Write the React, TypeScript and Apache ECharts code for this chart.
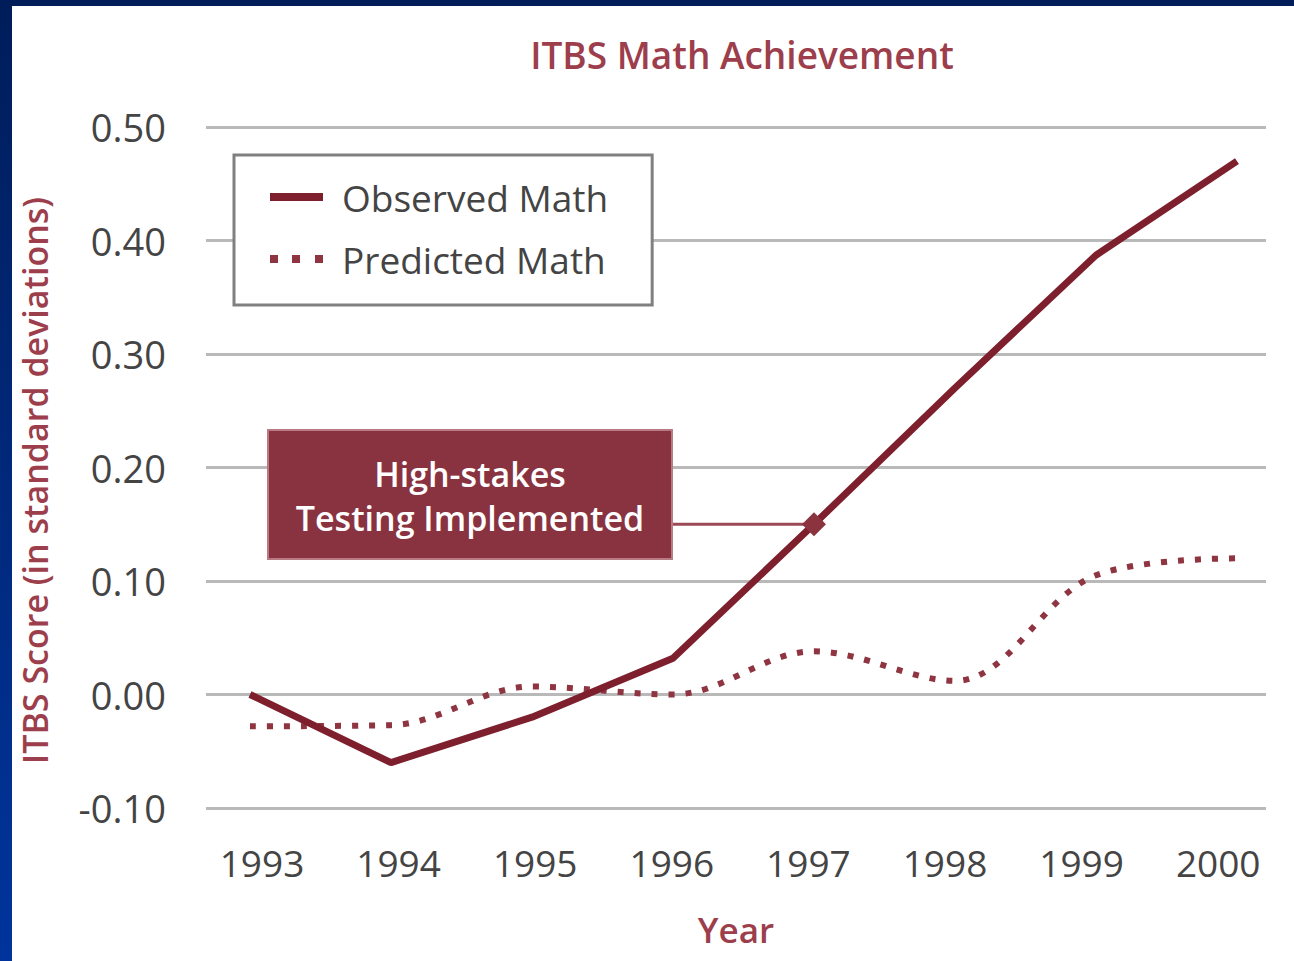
import React, { useEffect, useRef } from "react";
import * as echarts from "echarts";

const years = [1993, 1994, 1995, 1996, 1997, 1998, 1999, 2000];
const observedMath = [0.0, -0.06, -0.02, 0.032, 0.15, 0.27, 0.387, 0.47];
const predictedMath = [-0.028, -0.027, 0.007, 0.0, 0.038, 0.012, 0.105, 0.12];
const yTicks = [-0.1, 0.0, 0.1, 0.2, 0.3, 0.4, 0.5];
const annotationYear = 1997;
const annotationText = "High-stakes\nTesting Implemented";

const MAROON = "#7e1f2d";
const DOT = "#8f3441";
const FONT = "'Open Sans', 'DejaVu Sans', sans-serif";

export default function App() {
  const ref = useRef<HTMLDivElement>(null);
  useEffect(() => {
    if (!ref.current) return;
    const chart = echarts.init(ref.current, undefined, { renderer: "svg" });
    const obsPairs = years.map((y, i) => [y, observedMath[i]]);
    const predPairs = years.map((y, i) => [y, predictedMath[i]]);
    const annIdx = years.indexOf(annotationYear);
    chart.setOption({
      animation: false,
      backgroundColor: "#ffffff",
      title: {
        text: "ITBS Math Achievement",
        left: 725,
        top: 25,
        textAlign: "center",
        textStyle: { color: "#9c3e4b", fontSize: 37, fontWeight: 600, fontFamily: FONT },
      },
      legend: {
        orient: "vertical",
        left: 222,
        top: 149,
        padding: [22, 44, 26, 36],
        itemGap: 22,
        itemWidth: 53,
        itemHeight: 8,
        borderColor: "#808080",
        borderWidth: 3,
        backgroundColor: "#ffffff",
        textStyle: {
          color: "#444",
          fontSize: 37,
          lineHeight: 40,
          fontFamily: FONT,
          padding: [0, 0, 0, 14],
        },
        data: [
          { name: "Observed Math", icon: "path://M0,0h53v8h-53z", itemStyle: { color: MAROON } },
          {
            name: "Predicted Math",
            icon: "path://M0,0h8v8h-8zM22,0h8v8h-8zM45,0h8v8h-8z",
            itemStyle: { color: DOT },
          },
        ],
      },
      grid: { left: 194, right: 28, top: 121, bottom: 153, outerBoundsMode: "none", containLabel: false },
      xAxis: [
        {
          type: "value",
          min: 1992.688,
          max: 2000.206,
          axisLine: { show: false },
          axisTick: { show: false },
          axisLabel: { show: false },
          splitLine: { show: false },
        },
        {
          type: "value",
          position: "bottom",
          min: 1992.59,
          max: 2000.35,
          name: "Year",
          nameLocation: "middle",
          nameGap: 104,
          nameTextStyle: { color: "#9c3e4b", fontSize: 35, fontWeight: 600, fontFamily: FONT },
          axisLine: { show: false },
          axisTick: { show: false },
          splitLine: { show: false },
          axisLabel: {
            customValues: years,
            formatter: (v: number) => String(Math.round(v)),
            color: "#444",
            fontSize: 37,
            fontFamily: FONT,
            margin: 36,
          },
        },
      ],
      yAxis: {
        type: "value",
        min: yTicks[0],
        max: yTicks[yTicks.length - 1],
        interval: 0.1,
        name: "ITBS Score (in standard deviations)",
        nameLocation: "middle",
        nameRotate: 90,
        nameGap: 154,
        nameTextStyle: {
          color: "#9c3e4b",
          fontSize: 34,
          fontWeight: 600,
          fontFamily: FONT,
          lineHeight: 34,
          padding: [0, 26, 0, 0],
        },
        axisLine: { show: false },
        axisTick: { show: false },
        axisLabel: {
          color: "#444",
          fontSize: 38,
          fontFamily: FONT,
          margin: 40,
          formatter: (v: number) => (Math.abs(v) < 1e-9 ? "0.00" : v.toFixed(2)),
        },
        splitLine: { lineStyle: { color: "#b9b9b9", width: 3 } },
      },
      series: [
        {
          name: "Observed Math",
          type: "line",
          xAxisIndex: 0,
          data: obsPairs,
          symbol: "none",
          lineStyle: { color: MAROON, width: 7 },
          itemStyle: { color: MAROON },
          z: 3,
          markPoint: {
            symbol: "diamond",
            symbolSize: 24,
            itemStyle: { color: "#8b3440" },
            label: { show: false },
            data: [{ coord: obsPairs[annIdx] }],
          },
        },
        {
          name: "Predicted Math",
          type: "line",
          xAxisIndex: 0,
          data: predPairs,
          smooth: 0.35,
          symbol: "none",
          lineStyle: { color: DOT, width: 6, type: [6, 11] },
          itemStyle: { color: DOT },
          z: 2,
        },
      ],
    });
    const p = chart.convertToPixel({ xAxisIndex: 0, yAxisIndex: 0 }, obsPairs[annIdx]) as number[];
    chart.setOption({
      graphic: [
        {
          type: "line",
          shape: { x1: 660, y1: p[1], x2: p[0], y2: p[1] },
          style: { stroke: "#9b4a55", lineWidth: 3 },
          z: 4,
        },
        {
          type: "rect",
          shape: { x: 256, y: 424, width: 404, height: 129 },
          style: { fill: "#8a3340", stroke: "#b87a83", lineWidth: 2 },
          z: 5,
        },
        {
          type: "text",
          x: 458,
          y: 490,
          style: {
            text: annotationText,
            fill: "#ffffff",
            font: `600 34px ${FONT}`,
            align: "center",
            verticalAlign: "middle",
            lineHeight: 44,
          },
          z: 6,
        },
      ],
    });
    return () => chart.dispose();
  }, []);
  return (
    <div
      style={{
        position: "fixed",
        left: 0,
        top: 0,
        width: 1294,
        height: 961,
        background: "linear-gradient(#001d5a, #00349c)",
      }}
    >
      <div
        ref={ref}
        style={{ position: "absolute", left: 12, top: 6, width: 1282, height: 955, background: "#fff" }}
      />
    </div>
  );
}
